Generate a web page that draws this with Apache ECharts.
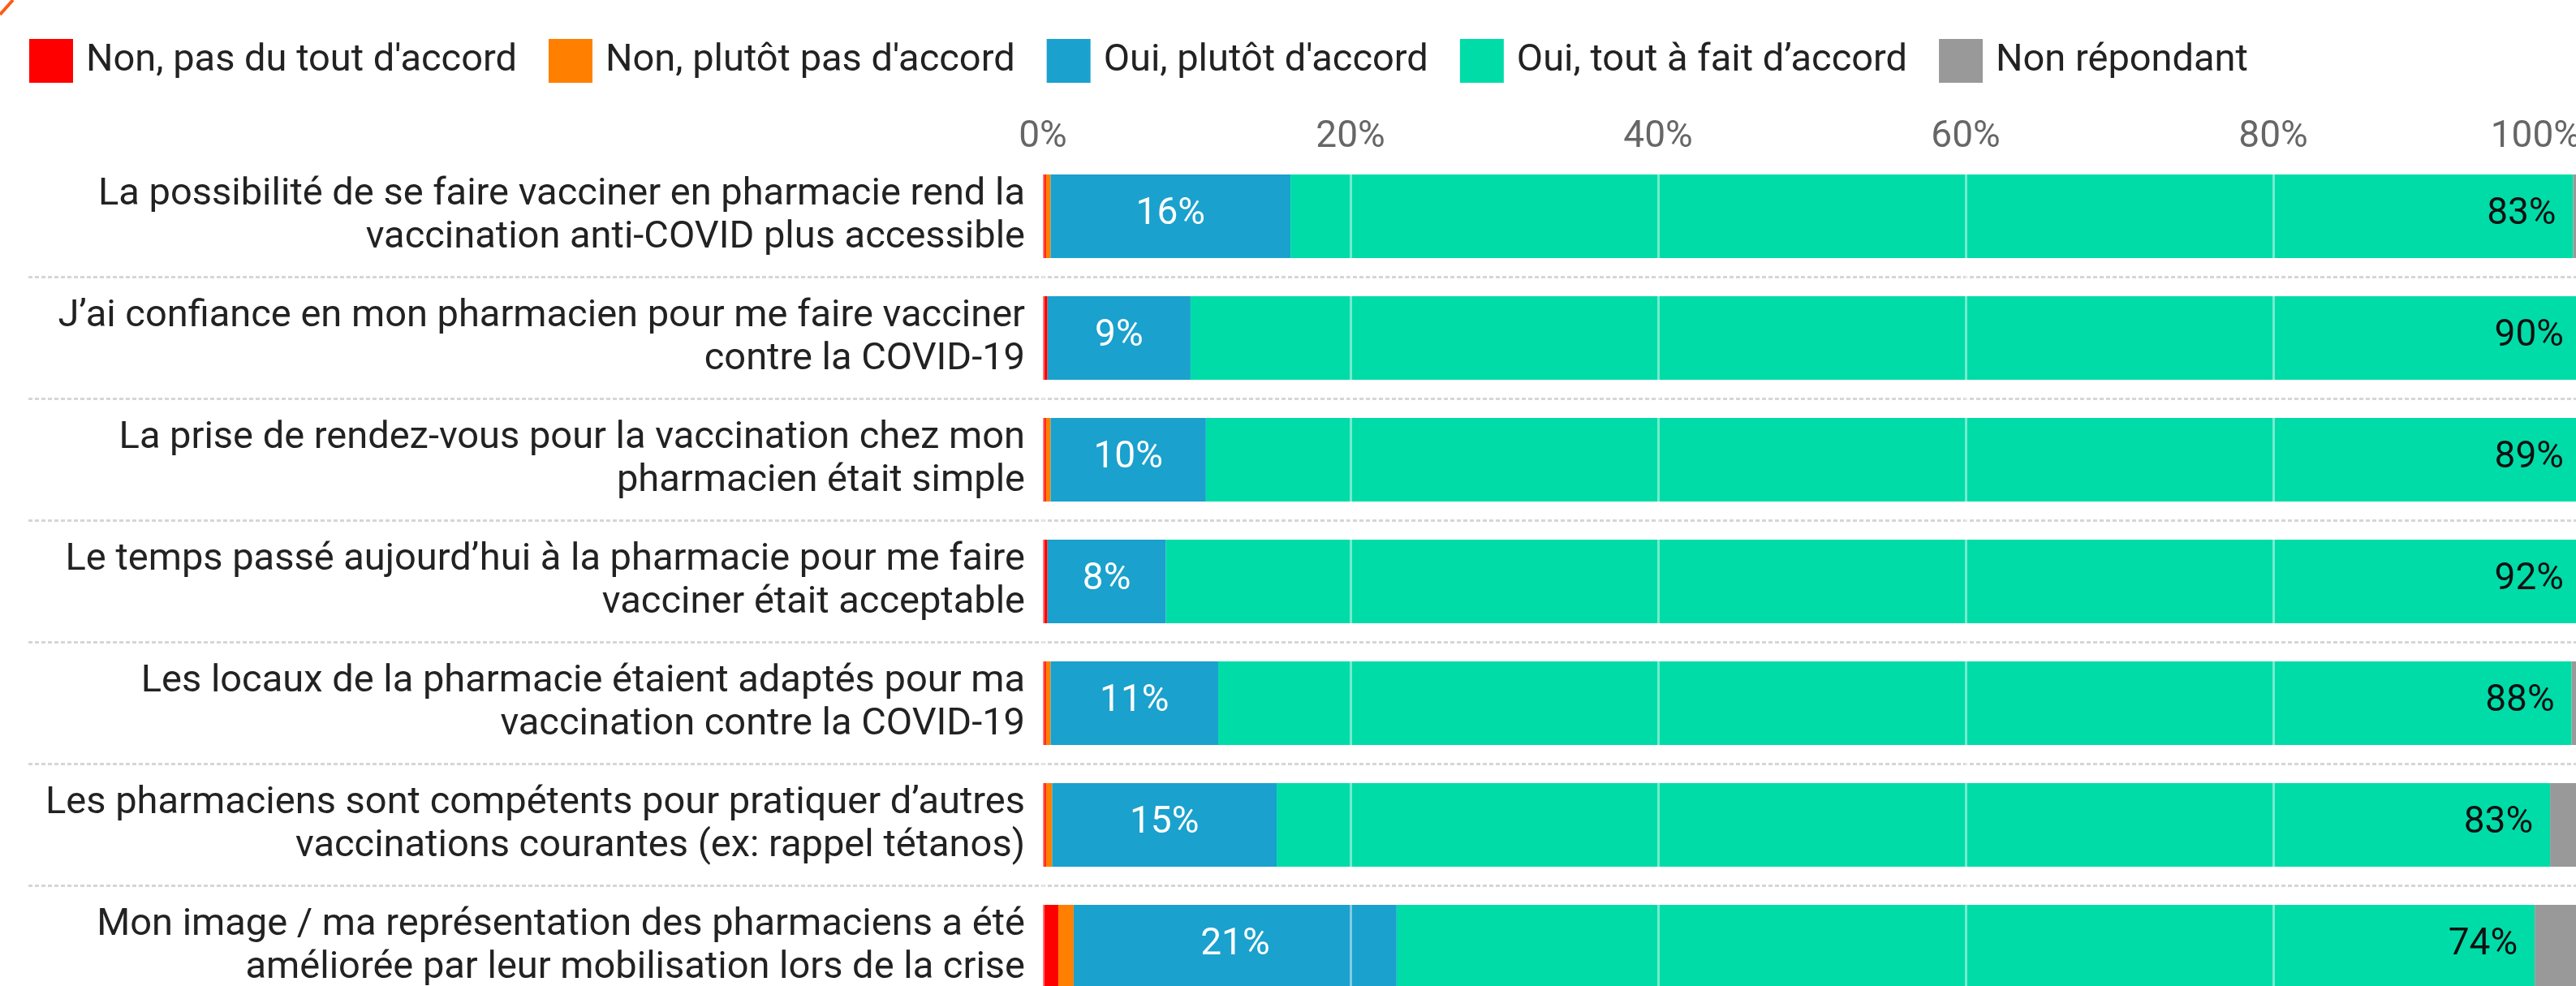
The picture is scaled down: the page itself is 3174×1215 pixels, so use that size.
<!DOCTYPE html>
<html>
<head>
<meta charset="utf-8">
<script src="https://cdn.jsdelivr.net/npm/echarts@6/dist/echarts.min.js"></script>
<style>
html,body{margin:0;padding:0;background:#fff;overflow:hidden;}
#chart{width:3184px;height:1250px;}
</style>
</head>
<body>
<div id="chart"></div>
<script>
const categories = [
  "La possibilité de se faire vacciner en pharmacie rend la\nvaccination anti-COVID plus accessible",
  "J’ai confiance en mon pharmacien pour me faire vacciner\ncontre la COVID-19",
  "La prise de rendez-vous pour la vaccination chez mon\npharmacien était simple",
  "Le temps passé aujourd’hui à la pharmacie pour me faire\nvacciner était acceptable",
  "Les locaux de la pharmacie étaient adaptés pour ma\nvaccination contre la COVID-19",
  "Les pharmaciens sont compétents pour pratiquer d’autres\nvaccinations courantes (ex: rappel tétanos)",
  "Mon image / ma représentation des pharmaciens a été\naméliorée par leur mobilisation lors de la crise"
];
const seriesNames = ["Non, pas du tout d'accord", "Non, plutôt pas d'accord", "Oui, plutôt d'accord", "Oui, tout à fait d’accord", "Non répondant"];
const redVals    = [0.2, 0.3, 0.2, 0.3, 0.2, 0.2, 1.0];
const orangeVals = [0.3, 0.0, 0.3, 0.0, 0.3, 0.4, 1.0];
const blueVals   = [15.6, 9.3, 10.1, 7.7, 10.9, 14.6, 21.0];
const greenVals  = [83.4, 90.4, 89.4, 92.0, 88.0, 82.8, 74.0];
const greyVals   = [0.5, 0.0, 0.0, 0.0, 0.6, 2.0, 3.0];
const xTicks = [0, 20, 40, 60, 80, 100];

const colors = ['#ff0000', '#ff7f00', '#1aa1cd', '#00dca8', '#999999'];
const FONT = 'Roboto';

const chart = echarts.init(document.getElementById('chart'), null, {renderer: 'canvas'});

function mk(i, data, label) {
  return {
    name: seriesNames[i], type: 'bar', stack: 'total', xAxisIndex: 1, yAxisIndex: 1,
    data: data, barWidth: 103, itemStyle: {color: colors[i]},
    label: label || {show: false}, silent: true
  };
}

const option = {
  backgroundColor: '#fff',
  animation: false,
  color: colors,
  graphic: [{
    type: 'line', shape: {x1: 0, y1: 18, x2: 16, y2: 0},
    style: {stroke: '#ff5b14', lineWidth: 4}
  }],
  legend: {
    left: 31, top: 43, itemWidth: 54, itemHeight: 54, itemGap: 39,
    icon: 'rect',
    data: seriesNames,
    formatter: name => '{s| }{t|' + name + '}',
    textStyle: {fontFamily: FONT, fontSize: 47, color: '#222',
      rich: {
        s: {width: 11, fontSize: 47, fontFamily: FONT},
        t: {fontSize: 47, fontFamily: FONT, color: '#222'}
      }
    }
  },
  grid: [
    {left: 35, top: 191.5, width: 3145, height: 1050, containLabel: false},
    {left: 1285, top: 191.5, width: 1895, height: 1050, containLabel: false}
  ],
  xAxis: [
    {gridIndex: 0, type: 'value', show: false, min: 0, max: 100},
    {gridIndex: 1, type: 'value', position: 'top', z: 10,
     min: xTicks[0], max: xTicks[xTicks.length - 1], interval: xTicks[1] - xTicks[0],
     axisLine: {show: false}, axisTick: {show: false},
     axisLabel: {fontFamily: FONT, fontSize: 46, color: '#666', margin: -1,
       formatter: v => v + '%', alignMaxLabel: 'right'},
     splitLine: {show: true, lineStyle: {color: 'rgba(255,255,255,0.45)', width: 3}}
    }
  ],
  yAxis: [
    {gridIndex: 0, type: 'category', data: categories, inverse: true,
     axisLine: {show: false}, axisTick: {show: false}, axisLabel: {show: false},
     splitLine: {show: true, showMinLine: false, showMaxLine: false,
       lineStyle: {color: '#d6d6d6', width: 3, type: [5, 3]}}
    },
    {gridIndex: 1, type: 'category', data: categories, inverse: true,
     axisLine: {show: false}, axisTick: {show: false}, splitLine: {show: false},
     axisLabel: {fontFamily: FONT, fontSize: 47, lineHeight: 53, color: '#222', margin: 22, align: 'right'}
    }
  ],
  series: [
    mk(0, redVals),
    mk(1, orangeVals),
    mk(2, blueVals, {show: true, position: 'inside', color: '#fff', fontFamily: FONT, fontSize: 46,
      offset: [0, -2], formatter: p => Math.round(p.value) + '%'}),
    mk(3, greenVals, {show: true, position: 'insideRight', distance: 21, color: '#111', fontFamily: FONT, fontSize: 46,
      offset: [0, -2], formatter: p => Math.round(p.value) + '%'}),
    mk(4, greyVals)
  ]
};
chart.setOption(option);
</script>
</body>
</html>
